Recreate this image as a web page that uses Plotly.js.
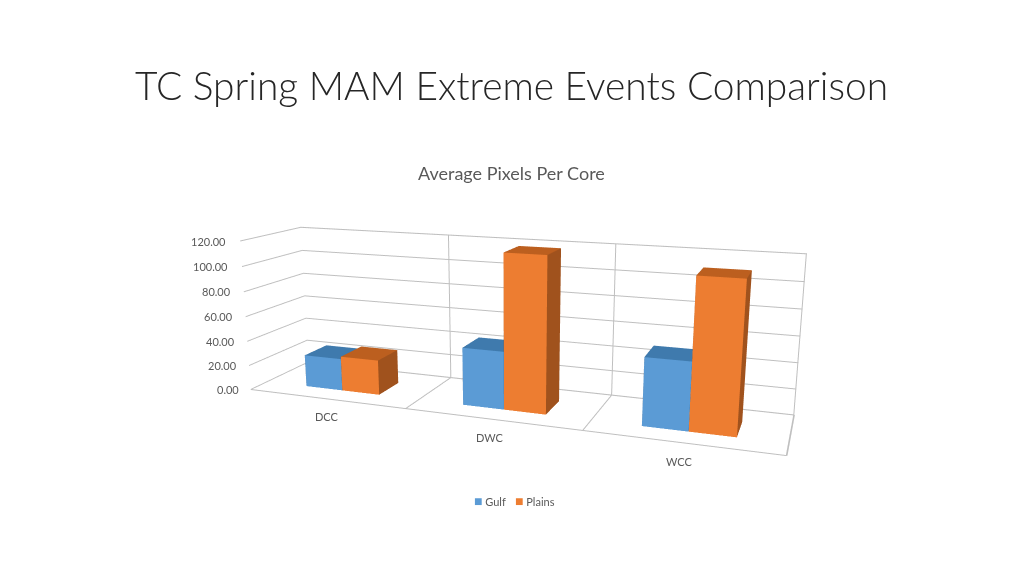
<!DOCTYPE html>
<html><head><meta charset="utf-8">
<script src="https://cdn.plot.ly/plotly-3.0.1.min.js"></script>
<style>html,body{margin:0;padding:0;background:#fff;overflow:hidden;width:1024px;height:576px}#c{position:absolute;left:-19px;top:-51px;width:1060px;height:754px}</style>
</head><body><div id="c"></div>
<script>
var categories = ["DCC","DWC","WCC"];
var gulf = [26, 45, 51];
var plains = [28, 119, 111];
var zTicks = [0,20,40,60,80,100,120];
var zTickLabels = ["0.00","20.00","40.00","60.00","80.00","100.00","120.00"];
var dividers = [0.5,1.5];
var PH=754, PT=51, PL=19;
function py(y){return 1-(y+PT)/PH;}
function px(x){return (x+PL)/1060;}

function meshFor(name, vals, x0, x1, cols){
  var X=[],Y=[],Z=[],I=[],J=[],K=[],F=[];
  var y0=0.27,y1=0.66;
  vals.forEach(function(v,idx){
    var a=idx+x0,b=idx+x1,n=X.length;
    [[a,y0,0],[b,y0,0],[b,y1,0],[a,y1,0],[a,y0,v],[b,y0,v],[b,y1,v],[a,y1,v]].forEach(function(p){X.push(p[0]);Y.push(p[1]);Z.push(p[2]);});
    [[0,1,5,cols.front],[0,5,4,cols.front],[1,2,6,cols.side],[1,6,5,cols.side],[4,5,6,cols.top],[4,6,7,cols.top],[3,2,6,cols.side],[3,6,7,cols.side],[0,3,7,cols.side],[0,7,4,cols.side]].forEach(function(f){I.push(n+f[0]);J.push(n+f[1]);K.push(n+f[2]);F.push(f[3]);});
  });
  return {type:"mesh3d",name:name,x:X,y:Y,z:Z,i:I,j:J,k:K,facecolor:F,flatshading:true,showlegend:false,
    lighting:{ambient:1,diffuse:0,specular:0,roughness:1,fresnel:0},hoverinfo:"skip"};
}
var gridc="#BFBFBF";
var xEnd=2.497;
var fx=[xEnd,xEnd,-0.5,null,-0.5,xEnd,xEnd,null,xEnd,-0.5];
var fy=[0.998,0.998,0.998,null,0,0,0.998,null,0.998,0.998];
var fz=[0,120,120,null,0,0,0,null,0,0];
dividers.forEach(function(d){fx.push(null,d,d,d);fy.push(null,0,0.998,0.998);fz.push(null,0,0,120);});
var frame={type:"scatter3d",mode:"lines",showlegend:false,hoverinfo:"skip",line:{color:gridc,width:2},x:fx,y:fy,z:fz};
var traces=[
 meshFor("Gulf",gulf,-0.23,0.01,{front:"#5B9BD5",top:"#3F7AAD",side:"#3F6C95"}),
 meshFor("Plains",plains,0.01,0.25,{front:"#ED7D31",top:"#BC5F1F",side:"#A0521D"}),
 frame
];
var tickF={family:"Lato, sans-serif",size:11,color:"#595959"};
var labelX=[327,490,679], labelY=[416,437,461];
var zLabelRight=[241,239,237,235,233,230,228], zLabelY=[389,365,341,316,291,266,241];
function note(text,x,y,anchor,font){return {text:text,xref:"paper",yref:"paper",x:px(x),y:py(y),xanchor:anchor,yanchor:"middle",showarrow:false,font:font};}
var layout={
 width:1060,height:754,margin:{l:0,r:0,t:0,b:0},paper_bgcolor:"#fff",showlegend:false,
 font:{family:"Lato, sans-serif",color:"#595959",size:12},
 annotations:[
  note("TC Spring MAM Extreme Events Comparison",511.5,85,"center",{family:"Lato, sans-serif",size:38.9,weight:300,color:"#262626"}),
  note("Average Pixels Per Core",511.5,173,"center",{family:"Lato, sans-serif",size:18,color:"#595959"}),
  note('<span style="color:#5B9BD5;font-size:14px">■</span> Gulf',472,500.5,"left",tickF),
  note('<span style="color:#ED7D31;font-size:14px">■</span> Plains',513,500.5,"left",tickF)
 ].concat(categories.map(function(c,i){return note(c,labelX[i],labelY[i],"center",tickF);}))
  .concat(zTickLabels.map(function(c,i){return note(c,zLabelRight[i],zLabelY[i],"right",tickF);})),
 scene:{
  domain:{x:[0,1],y:[0,1]},
  aspectmode:"manual",aspectratio:{x:2,y:0.41,z:0.58},
  camera:{eye:{x:1.1,y:-3.03,z:0.79},center:{x:0,y:0,z:0},up:{x:0,y:0,z:1},projection:{type:"perspective"}},
  xaxis:{title:{text:""},range:[-0.5,2.5],tickmode:"array",tickvals:[0,1,2],ticktext:["","",""],showgrid:false,showline:false,zeroline:false,ticks:"",showticklabels:false,showbackground:false,showspikes:false},
  yaxis:{title:{text:""},range:[0,1],tickvals:[],showgrid:false,showline:true,linecolor:gridc,linewidth:2,zeroline:false,showticklabels:false,showbackground:false,showspikes:false},
  zaxis:{title:{text:""},range:[0,120],tickmode:"array",tickvals:zTicks,ticktext:zTickLabels,showgrid:true,gridcolor:gridc,gridwidth:2,showline:false,zeroline:false,showbackground:false,showspikes:false,showticklabels:false,ticks:""}
 }
};
Plotly.newPlot("c",traces,layout,{displayModeBar:false});
</script></body></html>
